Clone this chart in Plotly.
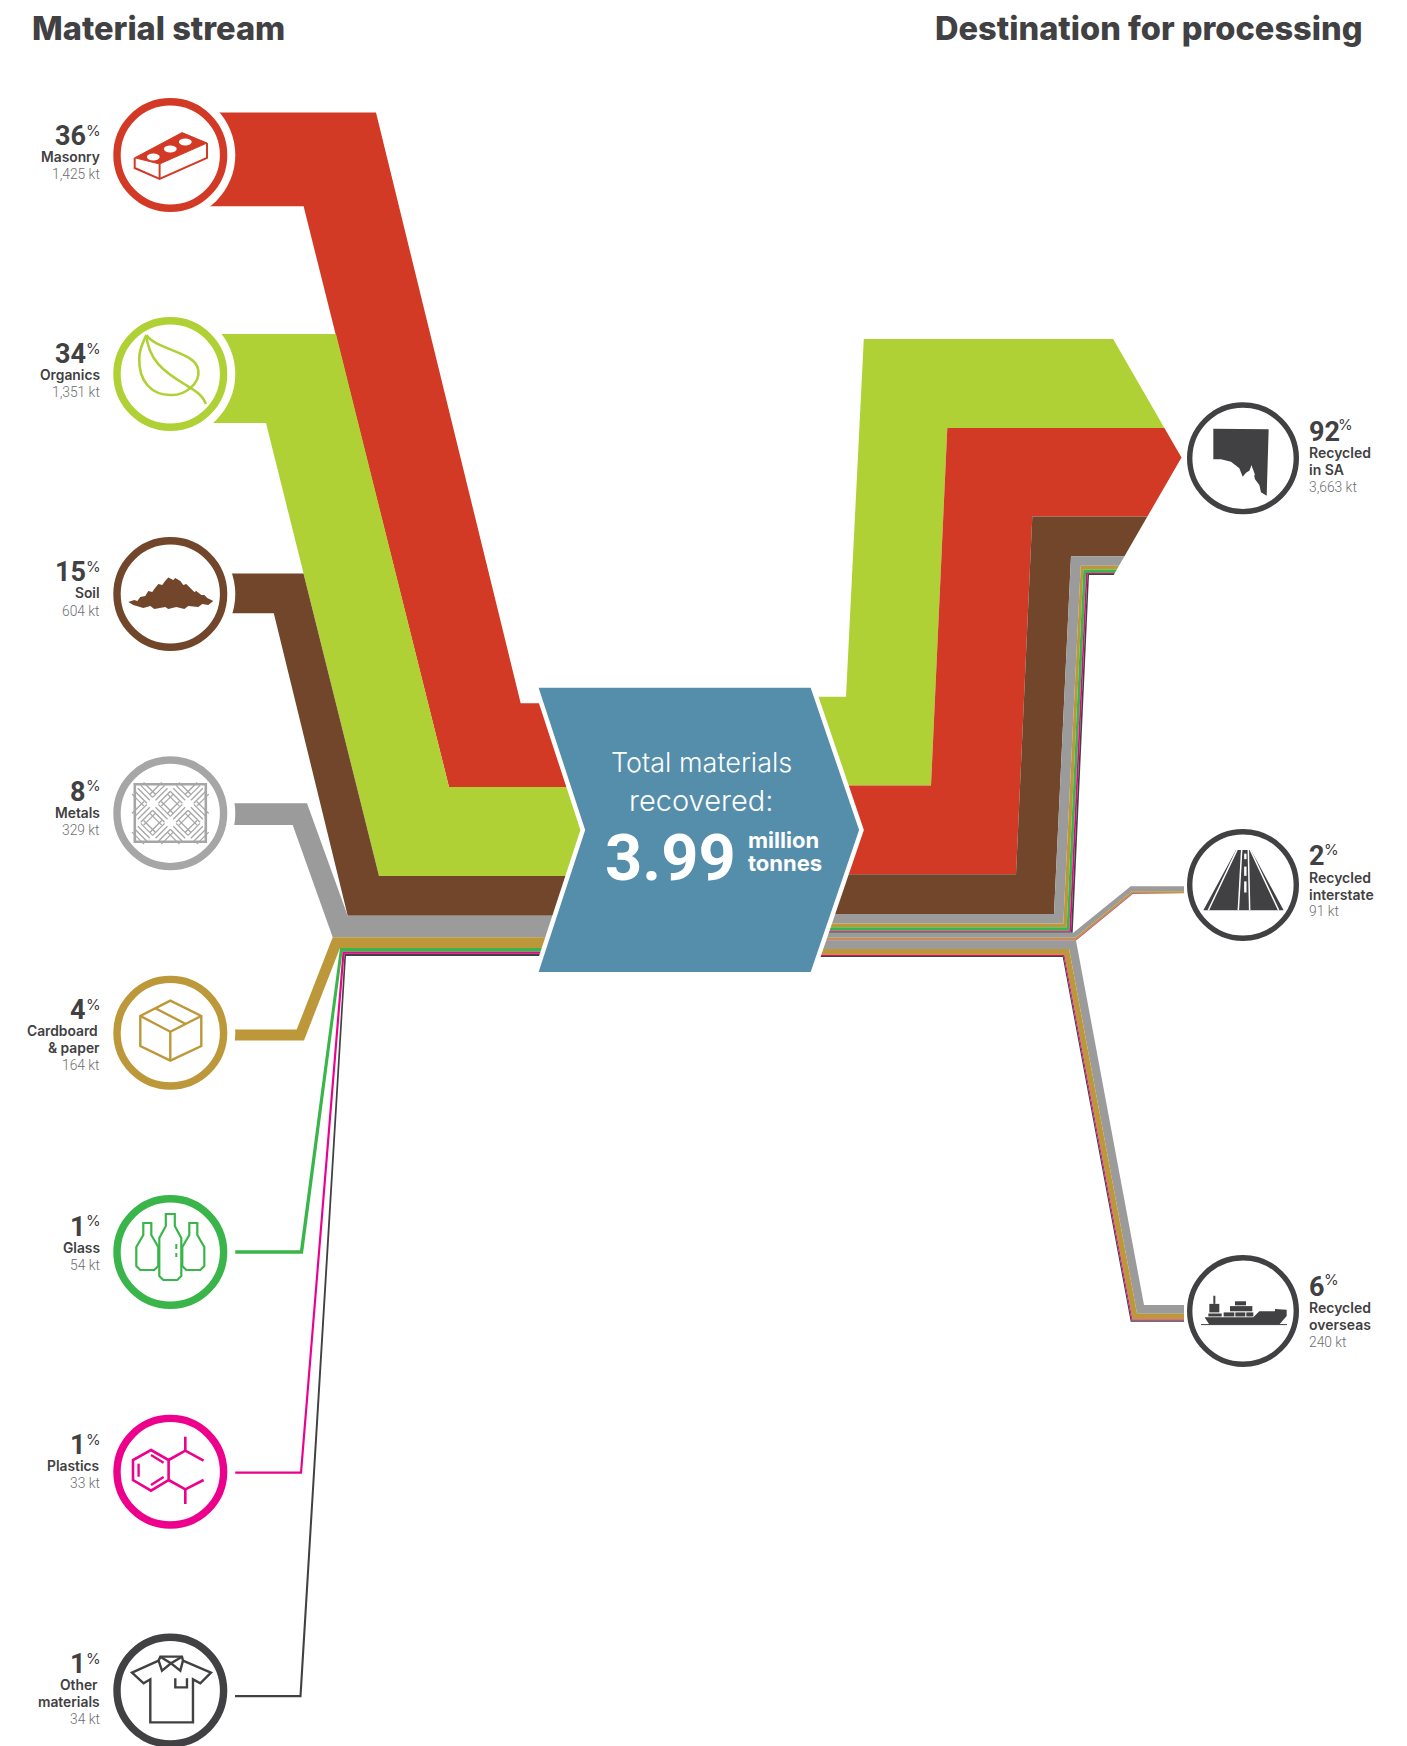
import plotly.graph_objects as go

# ---------- data ----------
MATERIALS = ["Masonry", "Organics", "Soil", "Metals", "Cardboard & paper", "Glass", "Plastics", "Other materials"]
MATERIAL_LINES = [["Masonry"], ["Organics"], ["Soil"], ["Metals"], ["Cardboard", "& paper"], ["Glass"], ["Plastics"], ["Other", "materials"]]
MATERIAL_PCT = [36, 34, 15, 8, 4, 1, 1, 1]
MATERIAL_KT = [1425, 1351, 604, 329, 164, 54, 33, 34]
MATERIAL_KT_LABEL = ["1,425 kt", "1,351 kt", "604 kt", "329 kt", "164 kt", "54 kt", "33 kt", "34 kt"]
DEST_LINES = [["Recycled", "in SA"], ["Recycled", "interstate"], ["Recycled", "overseas"]]
DEST_PCT = [92, 2, 6]
DEST_KT_LABEL = ["3,663 kt", "91 kt", "240 kt"]
TO_SA = [1425, 1351, 604, 144, 56, 54, 14, 15]
TO_INTERSTATE = [0, 0, 0, 60, 24, 0, 4, 3]
TO_OVERSEAS = [0, 0, 0, 125, 84, 0, 15, 16]
TITLE_LEFT = "Material stream"
TITLE_RIGHT = "Destination for processing"

# ---------- styles and layout ----------
RED, GREEN, BROWN, GREY, CARD, GLASS, PINK, DARK = ("#D33A26", "#AFD135", "#72462A", "#9B9B9B",
                                                   "#BD983A", "#39B54A", "#EC008C", "#414042")
COL = [RED, GREEN, BROWN, GREY, CARD, GLASS, PINK, DARK]
RING = [RED, GREEN, BROWN, "#A6A6A6", CARD, GLASS, PINK, DARK]
HUB = "#558EAB"
MUTED = "#6D6E71"
FONT = "Inter"
NUM_FONT = "Roboto"
PX = 0.0658                     # pixels per kilotonne
PX_IS, PX_OS = 0.085, 0.0695    # thin outgoing streams are drawn a little fatter in the original
CX_L, CX_R = 170.3, 1243.0
CY_L = [155, 374, 594, 813.3, 1032.7, 1252, 1471.7, 1690.6]
CY_R = [458.3, 885, 1311]
LABEL_Y = [157, 375, 593.3, 812.5, 1031, 1247.7, 1466, 1685]

ENTRY_Y = [112.6, 334, 573.5, 803.3, 1029.6, 1250.2, 1471.6, 1694.9]
TOP_BEND = [376, 336, 303.5, 307, 296.7, 300, 300, 299.5]
BOT_BEND = [303.6, 266, 273.8, 292.7, 304, 303, 302, 301.5]
STACK_TOP_X = [520.7, 449, 379, 347.7, 332.7, 340, 342.5, 344.5]
STACK_BOT_X = [449, 379, 347.7, 332.7, 340, 342.5, 344.5, 346]
STACK_Y0 = 787.0
RED_MID_L, RED_MID_R = 83.7, 88.7

fig = go.Figure()


def band(xs, ys, color):
    fig.add_trace(go.Scatter(x=xs, y=ys, mode="lines", fill="toself", fillcolor=color,
                             line=dict(width=0), hoverinfo="skip", showlegend=False))


# left side: material -> hub
y = STACK_Y0
for i, kt in enumerate(MATERIAL_KT):
    w = kt * PX
    if i == 0:
        mt, mb = STACK_Y0 - RED_MID_L, STACK_Y0
    else:
        mt, mb = y, y + w
        y = mb
    t = ENTRY_Y[i]
    band([CX_L, TOP_BEND[i], STACK_TOP_X[i], 600, 600, STACK_BOT_X[i], BOT_BEND[i], CX_L],
         [t, t, mt, mt, mb, mb, t + w, t + w], COL[i])

# right side: hub -> South Australia, with arrow head cut
TIP_X, TIP_Y, SLOPE = 1181.5, 457.5, 0.577
SA_ORDER = [1, 0, 2, 3, 4, 5, 6, 7]
SA_LOW_X = [846, 931, 1016, 1054, 1063.3, 1066.7, 1069.3, 1071, 1072.7]
SA_UP_X = [863.8, 947.3, 1032.3, 1071, 1080.7, 1083.3, 1086, 1087.5, 1089]
HUB_R_Y0, SA_UP_Y0 = 696.7, 339.0


def head(v):
    return TIP_X - abs(v - TIP_Y) * SLOPE


yl, yu = HUB_R_Y0, SA_UP_Y0
for k, idx in enumerate(SA_ORDER):
    w = RED_MID_R if idx == 0 else TO_SA[idx] * PX
    xs = [780, SA_LOW_X[k], SA_UP_X[k], head(yu)]
    ys = [yl, yl, yu, yu]
    if yu < TIP_Y < yu + w:
        xs.append(TIP_X)
        ys.append(TIP_Y)
    xs += [head(yu + w), SA_UP_X[k + 1], SA_LOW_X[k + 1], 780]
    ys += [yu + w, yu + w, yl + w, yl + w]
    band(xs, ys, COL[idx])
    yl += w
    yu += w


def branch(vals, px, y0, y1, low, up, end_x):
    """low=(x at top edge, x at bottom edge) of the hub-side corner, up= same for destination corner."""
    total = sum(vals) * px
    done = 0.0
    for idx in range(8):
        w = vals[idx] * px
        if w == 0:
            continue
        f0, f1 = done / total, (done + w) / total
        lx0, lx1 = low[0] + (low[1] - low[0]) * f0, low[0] + (low[1] - low[0]) * f1
        ux0, ux1 = up[0] + (up[1] - up[0]) * f0, up[0] + (up[1] - up[0]) * f1
        band([780, lx0, ux0, end_x, end_x, ux1, lx1, 780],
             [y0 + done, y0 + done, y1 + done, y1 + done, y1 + done + w, y1 + done + w, y0 + done + w, y0 + done + w],
             COL[idx])
        done += w
    return y0 + total


y_next = branch(TO_INTERSTATE, PX_IS, yl, 886.2, (1073.3, 1076), (1130.7, 1132.7), 1184)
branch(TO_OVERSEAS, PX_OS, y_next, 1305, (1076, 1062.7), (1144, 1130.7), 1184)

# ---------- shapes ----------
shapes = []


def circle(cx, cy, r, fill=None, line=None, lw=0):
    shapes.append(dict(type="circle", xref="x", yref="y", x0=cx - r, x1=cx + r, y0=cy - r, y1=cy + r,
                       fillcolor=fill or "rgba(0,0,0,0)", line=dict(color=line or "rgba(0,0,0,0)", width=lw)))


def path(cx, cy, pts, close=True, fill=None, line=None, lw=0):
    d = "M" + " L".join(f"{cx + a:.2f},{cy + b:.2f}" for a, b in pts) + (" Z" if close else "")
    shapes.append(dict(type="path", xref="x", yref="y", path=d, fillcolor=fill or "rgba(0,0,0,0)",
                       line=dict(color=line or "rgba(0,0,0,0)", width=lw)))


def curve(cx, cy, start, segs, close=False, fill=None, line=None, lw=2.5):
    d = f"M{cx + start[0]:.2f},{cy + start[1]:.2f}"
    for s in segs:
        d += " C" + " ".join(f"{cx + s[j]:.2f},{cy + s[j + 1]:.2f}" for j in (0, 2, 4))
    if close:
        d += " Z"
    shapes.append(dict(type="path", xref="x", yref="y", path=d, fillcolor=fill or "rgba(0,0,0,0)",
                       line=dict(color=line or "rgba(0,0,0,0)", width=lw)))


for cy, c in zip(CY_L, RING):
    circle(CX_L, cy, 65, fill="white")
    circle(CX_L, cy, 53.3, line=c, lw=7.4)
for cy in CY_R:
    circle(CX_R, cy, 53.3, fill="white", line=DARK, lw=5.4)

# hub chevron
path(0, 0, [(535.5, 685.5), (812.3, 685.5), (861.5, 830), (812.3, 974.2), (535.5, 974.2), (582.8, 830)],
     fill=HUB, line="white", lw=4.5)

# brick
cx, cy = CX_L, CY_L[0]
path(cx, cy, [(-35.6, 2.8), (11.8, -22.4), (36.7, -12), (-10.7, 9)], fill=RED, line=RED, lw=1)
path(cx, cy, [(-35.6, 2.8), (-35.6, 13), (-10.7, 24), (36.7, 2.8), (36.7, -12)], close=False, line=RED, lw=2)
path(cx, cy, [(-10.7, 9), (-10.7, 24)], close=False, line=RED, lw=2)
for ox, oy in [(-17, 2), (0, -6), (15, -13)]:
    circle(cx + ox, cy + oy, 6.4, fill="white")
    shapes[-1]["y0"] = cy + oy - 3.4
    shapes[-1]["y1"] = cy + oy + 3.4

# leaf
cx, cy = CX_L, CY_L[1]
curve(cx, cy, (-24, -39), [(-14, -24, 26, -22, 28, -4), (30, 10, 14, 22, 0, 21), (-18, 21, -32, 8, -31, -16),
                           (-31, -26, -26, -34, -24, -39)], line=GREEN, lw=2.6)
curve(cx, cy, (-24, -39), [(-22, -14, -6, -2, 14, 10), (22, 15, 32, 20, 35.5, 30)], line=GREEN, lw=2.6)

# soil
cx, cy = CX_L, CY_L[2]
path(cx, cy, [(-42, 8), (-36, 6), (-33, 7), (-30, 3), (-25, 2), (-22, -3), (-18, -2), (-16, -5), (-12, -10), (-8, -9), (-6, -12), (-2, -16.5),
              (3, -14), (5, -16), (10, -13), (13, -9), (16, -10), (20, -6), (24, -2), (26, -3), (31, 1), (34, 1), (37, 4), (43, 7), (38, 11), (32, 10), (28, 13),
              (18, 12), (14, 15), (6, 13), (-2, 15), (-5, 13), (-16, 15), (-20, 12), (-27, 14), (-37, 11)], fill=BROWN)

# metal plate
cx, cy = CX_L, CY_L[3]
path(cx, cy, [(-35.5, -29), (35.5, -29), (35.5, 28.5), (-35.5, 28.5)], line="#A6A6A6", lw=2.6)
for col_i in range(4):
    for row_i in range(3):
        ox = -26.5 + col_i * 17.7
        oy = -19 + row_i * 19
        flip = (col_i + row_i) % 2
        for n in range(-2, 3):
            d = n * 2.9
            if flip:
                path(cx + ox + d, cy + oy + d, [(-6, 6), (6, -6)], close=False, line="#A6A6A6", lw=1.3)
            else:
                path(cx + ox + d, cy + oy - d, [(-6, -6), (6, 6)], close=False, line="#A6A6A6", lw=1.3)

# box
cx, cy = CX_L, CY_L[4]
path(cx, cy, [(0, -32), (31, -16.7), (31, 13.3), (0, 28), (-30, 13.3), (-30, -16.7)], line=CARD, lw=2.4)
path(cx, cy, [(-30, -16.7), (0, -1), (31, -16.7)], close=False, line=CARD, lw=2.4)
path(cx, cy, [(0, -1), (0, 28)], close=False, line=CARD, lw=2.4)
path(cx, cy, [(-15, -24.5), (15, -9)], close=False, line=CARD, lw=2.4)


# bottles
def bottle(ox, top, bot, hw, nw):
    cx0, cy0 = CX_L + ox, CY_L[5]
    path(cx0, cy0, [(-nw, top), (nw, top), (nw, top + 12), (hw, top + 24), (hw, bot - 4), (hw - 4, bot),
                    (-hw + 4, bot), (-hw, bot - 4), (-hw, top + 24), (-nw, top + 12)], line=GLASS, lw=2.2)


bottle(-23, -29, 18, 11, 4)
bottle(23, -29, 18, 11, 4)
path(CX_L, CY_L[5], [(-11, -14), (11, -14), (11, 28), (-11, 28)], fill="white")
bottle(0, -38, 28, 11, 4.5)
path(CX_L + 6, CY_L[5], [(0, -8), (0, -3)], close=False, line=GLASS, lw=2)
path(CX_L + 6, CY_L[5], [(0, 1), (0, 5)], close=False, line=GLASS, lw=2)

# plastics molecule
cx, cy = CX_L, CY_L[6]
path(cx, cy, [(-19.3, -21.7), (-1.7, -11.7), (-1.7, 8.3), (-19.3, 19), (-37.3, 8.3), (-37.3, -11.7)], line=PINK, lw=2.6)
path(cx, cy, [(-31.7, -8), (-31.7, 5)], close=False, line=PINK, lw=2.4)
path(cx, cy, [(-19.3, -16.7), (-6.7, -9)], close=False, line=PINK, lw=2.4)
path(cx, cy, [(-19.3, 13.3), (-6.7, 5.3)], close=False, line=PINK, lw=2.4)
path(cx, cy, [(-1.7, -11.7), (15, -21), (33.3, -11)], close=False, line=PINK, lw=2.6)
path(cx, cy, [(15, -21), (15, -35)], close=False, line=PINK, lw=2.6)
path(cx, cy, [(-1.7, 8.3), (15, 17.6), (33.3, 8.3)], close=False, line=PINK, lw=2.6)
path(cx, cy, [(15, 17.6), (15, 32.3)], close=False, line=PINK, lw=2.6)

# shirt
cx, cy = CX_L, 1690
sh = lambda p: [(a / 3 - 170, b / 3 - 450) for a, b in p]
path(cx, cy, sh([(475, 1262), (395, 1298), (430, 1330), (450, 1318), (450, 1447), (578, 1447), (578, 1318),
                 (600, 1330), (632, 1298), (548, 1262)]), close=False, line=DARK, lw=2.4)
path(cx, cy, sh([(480, 1250), (475, 1262), (485, 1292), (512, 1270), (540, 1292), (548, 1262), (545, 1250)]),
     line=DARK, lw=2.4)
path(cx, cy, sh([(480, 1250), (512, 1270), (545, 1250)]), close=False, line=DARK, lw=2.4)
path(cx, cy, sh([(525, 1315), (525, 1342), (560, 1342), (560, 1315)]), close=False, line=DARK, lw=2.4)

# South Australia
sa = lambda p: [(a / 3 - 242, b / 3 - 138.3) for a, b in p]
path(CX_R, CY_R[0], sa([(637, 326), (803, 328), (797, 527), (780, 517), (775, 495), (762, 478), (752, 435),
                        (745, 452), (735, 458), (725, 470), (715, 445), (690, 425), (660, 418), (637, 418)]), fill=DARK)
path(CX_R, CY_R[0], sa([(755, 445), (762, 465), (740, 478), (735, 470)]), fill="white")

# road
rd = lambda p: [(a / 3 - 242, b / 2.703 - 85) for a, b in p]
path(CX_R, CY_R[1], rd([(607, 298), (705, 135), (750, 135), (848, 298)]), fill=DARK)
for pts in ([(622, 298), (708, 135)], [(833, 298), (748, 135)], [(712, 298), (722, 135)], [(746, 298), (742, 135)]):
    path(CX_R, CY_R[1], rd(pts), close=False, line="white", lw=1.5)
for a, b in [(145, 160), (180, 205), (220, 250)]:
    path(CX_R, CY_R[1], rd([(733, a), (733, b)]), close=False, line="white", lw=2.4)

# ship
sp = lambda p: [(a / 3 - 242, b / 2.703 - 511) for a, b in p]
path(CX_R, CY_R[2], sp([(612, 1400), (625, 1418), (835, 1418), (857, 1395), (857, 1378), (822, 1376), (822, 1382),
                        (775, 1382), (757, 1398), (612, 1398)]), fill=DARK)
for x0, y0, x1, y1 in [(668, 1385, 700, 1396), (703, 1385, 733, 1396), (736, 1385, 757, 1396), (687, 1368, 754, 1382),
                       (702, 1355, 735, 1366), (622, 1388, 662, 1396), (625, 1362, 655, 1385)]:
    path(CX_R, CY_R[2], sp([(x0, y0), (x1, y0), (x1, y1), (x0, y1)]), fill=DARK)
path(CX_R, CY_R[2], sp([(640, 1340), (640, 1362)]), close=False, line=DARK, lw=2)
path(CX_R, CY_R[2], sp([(600, 1418), (858, 1418)]), close=False, line=DARK, lw=1)

# ---------- text ----------
ann = []


def text(x, y, s, size, color=DARK, weight=400, anchor="left", family=FONT):
    ann.append(dict(x=x, y=y, xref="x", yref="y", text=s, showarrow=False, xanchor=anchor, yanchor="middle",
                    font=dict(family=family, size=size, color=color, weight=weight), align=anchor))


text(30, 28, TITLE_LEFT, 32.6, weight=800)
text(1364, 28, TITLE_RIGHT, 32.6, weight=800, anchor="right")

for i in range(8):
    base = LABEL_Y[i]
    lines = MATERIAL_LINES[i]
    two = len(lines) == 2
    text(88, base - 21, str(MATERIAL_PCT[i]), 27, weight=700, anchor="right", family=NUM_FONT)
    text(102.5, base - 27, "%", 15, weight=400, anchor="right")
    for j, ln in enumerate(lines):
        text(100 if (two and j == 0) else 102, base + j * 16.7, ln, 13.8, weight=600, anchor="right")
    text(102, base + (len(lines) - 1) * 16.7 + 17.3, MATERIAL_KT_LABEL[i], 13.8, color=MUTED, weight=300,
         anchor="right", family=NUM_FONT)

R_PCT_Y = [431.7, 856, 1286.5]
R_PCT_X = [1336, 1321.5, 1321.5]
for i in range(3):
    py = R_PCT_Y[i]
    text(1307, py, str(DEST_PCT[i]), 27, weight=700, family=NUM_FONT)
    text(R_PCT_X[i], py - 7, "%", 15, weight=400)
    text(1307, py + 21, DEST_LINES[i][0], 14, weight=600)
    text(1307, py + 38, DEST_LINES[i][1], 14, weight=600)
    text(1307, py + 55, DEST_KT_LABEL[i], 13.8, color=MUTED, weight=300, family=NUM_FONT)

text(701, 762.7, "Total materials", 27, color="white", weight=300, anchor="center")
text(701, 800, "recovered:", 29, color="white", weight=300, anchor="center")
text(670.5, 858, "3.99", 65, color="white", weight=700, anchor="center", family=NUM_FONT)
text(745.5, 840, "million", 22, color="white", weight=700)
text(745.5, 862.7, "tonnes", 22, color="white", weight=700)

fig.update_layout(width=1407, height=1746, margin=dict(l=0, r=0, t=0, b=0), paper_bgcolor="white",
                  plot_bgcolor="white", showlegend=False, shapes=shapes, annotations=ann,
                  xaxis=dict(range=[0, 1407], visible=False, fixedrange=True),
                  yaxis=dict(range=[1746, 0], visible=False, fixedrange=True))
fig.write_html("out.html", config=dict(displayModeBar=False),
               post_script="document.body.style.margin='0';document.documentElement.style.overflow='hidden';")
